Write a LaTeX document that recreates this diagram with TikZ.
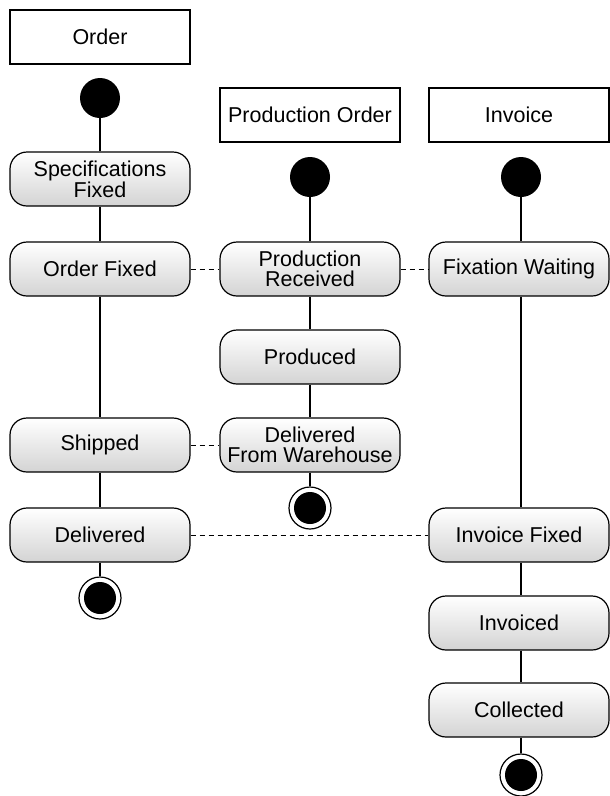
\documentclass[tikz,border=0pt]{standalone}
\usepackage{fontspec}
\setmainfont{Liberation Sans}
\begin{document}
\begin{tikzpicture}[x=1pt,y=-1pt,
  font=\fontsize{21.5}{19.5}\selectfont,
  lane/.style={draw, line width=1.1pt, minimum width=180pt, minimum height=54pt, inner sep=0pt, fill=white},
  state/.style={draw, line width=1.2pt, rounded corners=17pt, minimum width=180pt, minimum height=54pt,
    inner sep=0pt, align=center, top color=white, bottom color=black!17},
  initial/.style={circle, fill=black, minimum size=40pt, inner sep=0pt},
  final/.style={circle, draw, line width=1.2pt, fill=white, minimum size=42pt, inner sep=0pt,
    path picture={\fill[black] (path picture bounding box.center) circle (16pt);}},
  flow/.style={line width=1.1pt},
  sync/.style={line width=1pt, dash pattern=on 5pt off 4pt}]
\useasboundingbox (0,0) rectangle (610,796);

% Order lane
\node[lane] (order) at (100,37) {Order};
\node[initial] (o0) at (100,98) {};
\node[state] (spec) at (100,179) {Specifications\\Fixed};
\node[state] (ofix) at (100,269) {Order Fixed};
\node[state] (ship) at (100,445) {Shipped};
\node[state] (deliv) at (100,535) {Delivered};
\node[final] (oend) at (100,598) {};

% Production order lane
\node[lane] (prod) at (310,115) {Production Order};
\node[initial] (p0) at (310,177) {};
\node[state] (prec) at (310,269) {Production\\Received};
\node[state] (pdone) at (310,357) {Produced};
\node[state] (pwh) at (310,445) {Delivered\\From Warehouse};
\node[final] (pend) at (310,508) {};

% Invoice lane
\node[lane] (inv) at (519,115) {Invoice};
\node[initial] (i0) at (521,177) {};
\node[state] (iwait) at (519,269) {Fixation Waiting};
\node[state] (ifix) at (519,535) {Invoice Fixed};
\node[state] (ivd) at (519,623) {Invoiced};
\node[state] (icol) at (519,710) {Collected};
\node[final] (iend) at (521,775) {};

% transitions
\draw[flow] (o0) -- (spec);
\draw[flow] (spec) -- (ofix);
\draw[flow] (ofix) -- (ship);
\draw[flow] (ship) -- (deliv);
\draw[flow] (deliv) -- (oend);

\draw[flow] (p0) -- (prec);
\draw[flow] (prec) -- (pdone);
\draw[flow] (pdone) -- (pwh);
\draw[flow] (pwh) -- (pend);

\draw[flow] (i0) -- (i0 |- iwait.north);
\draw[flow] (i0 |- iwait.south) -- (i0 |- ifix.north);
\draw[flow] (i0 |- ifix.south) -- (i0 |- ivd.north);
\draw[flow] (i0 |- ivd.south) -- (i0 |- icol.north);
\draw[flow] (i0 |- icol.south) -- (iend);

% synchronisation between lanes
\draw[sync] (ofix) -- (prec);
\draw[sync] (prec) -- (iwait);
\draw[sync] (ship) -- (pwh);
\draw[sync] (deliv) -- (ifix);
\end{tikzpicture}
\end{document}
